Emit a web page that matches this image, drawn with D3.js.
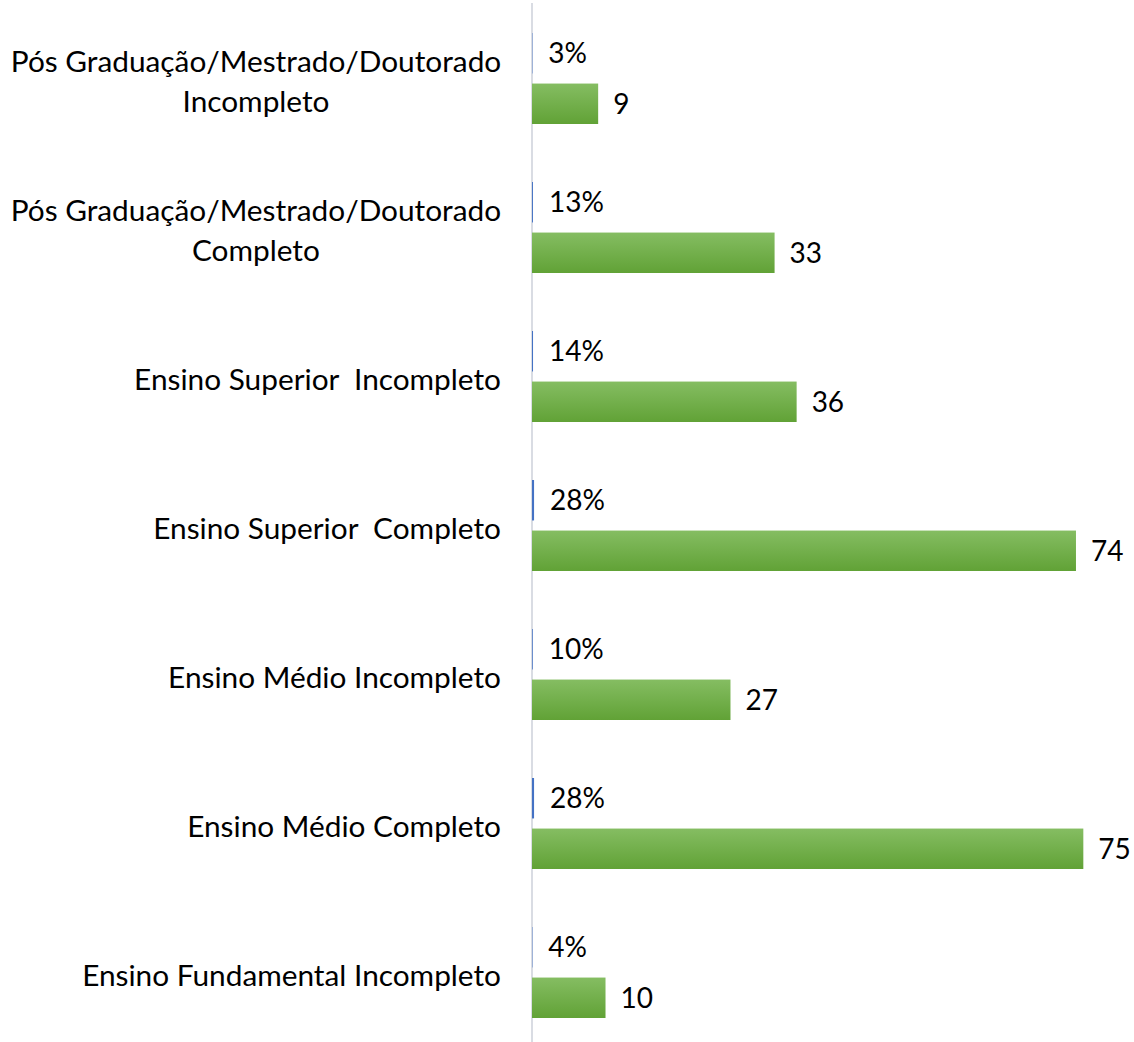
<!DOCTYPE html>
<html>
<head>
<meta charset="utf-8">
<script src="https://cdn.jsdelivr.net/npm/d3@7"></script>
<style>
  body { margin: 0; background: #fff; }
  text { font-family: Lato, "Open Sans", sans-serif; fill: #000; white-space: pre; }
</style>
</head>
<body>
<div id="chart"></div>
<script>
var width = 1134,
    height = 1042,
    axis_x = 532,
    label_right = 501,
    font_size = 28,
    cat_font_size = 29.8;

// categories, top to bottom
var categories = [
    ['Pós Graduação/Mestrado/Doutorado', 'Incompleto'],
    ['Pós Graduação/Mestrado/Doutorado', 'Completo'],
    ['Ensino Superior  Incompleto'],
    ['Ensino Superior  Completo'],
    ['Ensino Médio Incompleto'],
    ['Ensino Médio Completo'],
    ['Ensino Fundamental Incompleto']
];
var counts = [9, 33, 36, 74, 27, 75, 10];
var shares = [0.03, 0.13, 0.14, 0.28, 0.10, 0.28, 0.04];

var keys = categories.map(function(c) { return c.join(' '); });

var svg = d3.select('#chart').append('svg')
    .attr('width', width)
    .attr('height', height);

var grad = svg.append('defs').append('linearGradient')
    .attr('id', 'green-grad')
    .attr('x1', 0).attr('y1', 0).attr('x2', 0).attr('y2', 1);
grad.append('stop').attr('offset', '0%').attr('stop-color', '#85bd62');
grad.append('stop').attr('offset', '100%').attr('stop-color', '#61a236');

var y = d3.scaleBand().domain(keys).range([4, 1047]).padding(0);
var yInner = d3.scaleBand().domain(['share', 'count'])
    .range([29, 120]).paddingInner(0.2).paddingOuter(0);
var x = d3.scaleLinear().domain([0, 75]).range([axis_x, axis_x + 75 * 7.351]);

var rows = keys.map(function(k, i) {
    return { key: k, lines: categories[i], count: counts[i], share: shares[i] };
});

// axis line
svg.append('line')
    .attr('x1', axis_x).attr('x2', axis_x)
    .attr('y1', 3).attr('y2', height)
    .style('stroke', '#d9dce3')
    .style('stroke-width', 2);

var row = svg.append('g').selectAll('.row').data(rows)
    .enter().append('g')
    .attr('class', 'row')
    .attr('transform', function(d) { return 'translate(0,' + y(d.key) + ')'; });

// share bars (blue, same axis so they are thin)
row.append('rect')
    .attr('x', x(0))
    .attr('y', yInner('share'))
    .attr('width', function(d) { return Math.max(0.4, x(d.share) - x(0)); })
    .attr('height', yInner.bandwidth())
    .style('fill', '#4472c4');

row.append('rect')
    .attr('x', x(0))
    .attr('y', yInner('count'))
    .attr('width', function(d) { return x(d.count) - x(0); })
    .attr('height', yInner.bandwidth())
    .style('fill', 'url(#green-grad)');

row.append('text')
    .attr('x', function(d) { return x(d.share) + 16; })
    .attr('y', yInner('share') + yInner.bandwidth() / 2)
    .attr('dy', '0.35em')
    .attr('font-size', font_size)
    .text(function(d) { return Math.round(d.share * 100) + '%'; });

row.append('text')
    .attr('x', function(d) { return x(d.count) + 15; })
    .attr('y', yInner('count') + yInner.bandwidth() / 2)
    .attr('dy', '0.35em')
    .attr('font-size', font_size)
    .text(function(d) { return d.count; });

// category labels: block right aligned, lines centred within it
var label = row.append('text')
    .attr('text-anchor', 'middle')
    .attr('font-size', cat_font_size)
    .attr('y', y.bandwidth() / 2 + 3);

label.selectAll('tspan').data(function(d) { return d.lines; })
    .enter().append('tspan')
    .attr('dy', function(l, i, nodes) {
        var n = nodes.length;
        if (i === 0) return ((-(n - 1) / 2) * 1.35 + 0.35) + 'em';
        return '1.35em';
    })
    .text(function(l) { return l; });

label.each(function() {
    var spans = d3.select(this).selectAll('tspan');
    var maxw = d3.max(spans.nodes(), function(n) { return n.getComputedTextLength(); });
    spans.attr('x', label_right - maxw / 2);
});
</script>
</body>
</html>
